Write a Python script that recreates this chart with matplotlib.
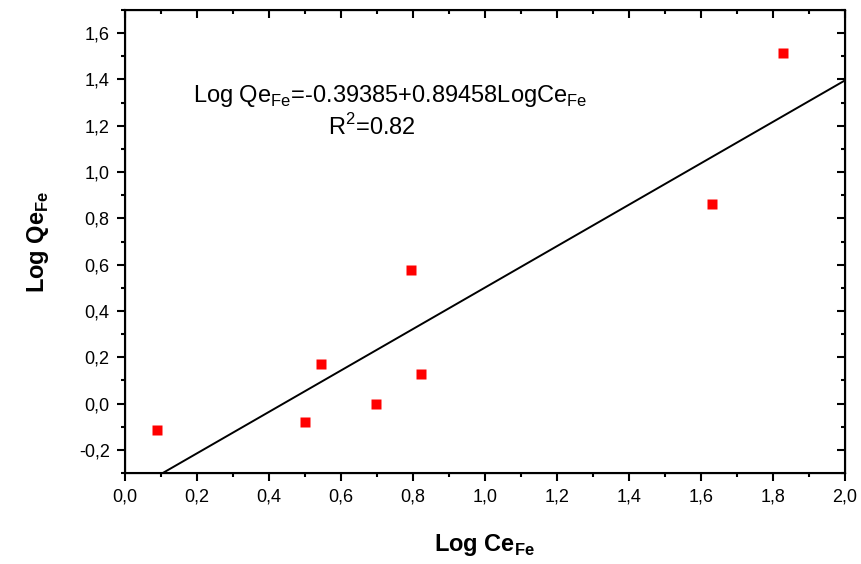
import numpy as np
import matplotlib.pyplot as plt
from matplotlib.ticker import MultipleLocator, FuncFormatter

plt.rcParams['font.family'] = ['Liberation Sans', 'DejaVu Sans']
plt.rcParams['mathtext.fontset'] = 'custom'
plt.rcParams['mathtext.rm'] = 'Liberation Sans'
plt.rcParams['mathtext.bf'] = 'Liberation Sans:bold'

# data
log_ce = [0.089, 0.500, 0.544, 0.697, 0.794, 0.822, 1.630, 1.828]
log_qe = [-0.112, -0.078, 0.173, -0.004, 0.578, 0.129, 0.863, 1.515]

# linear fit from the annotation
intercept = -0.39385
slope = 0.89458

fig = plt.figure(figsize=(8.62, 5.64), dpi=100)
ax = fig.add_axes([0.145, 0.1613, 0.835, 0.821])

xfit = np.array([0.09, 2.0])
ax.plot(xfit, intercept + slope * xfit, color='black', lw=1.4, zorder=2)
ax.plot(log_ce, log_qe, 's', color='#ff0000', ms=7.2, mec='none', zorder=3)

ax.set_xlim(0, 2.0)
ax.set_ylim(-0.3, 1.7)

comma = FuncFormatter(lambda v, p: ('%.1f' % v).replace('.', ','))
ax.xaxis.set_major_locator(MultipleLocator(0.2))
ax.xaxis.set_minor_locator(MultipleLocator(0.1))
ax.yaxis.set_major_locator(MultipleLocator(0.2))
ax.yaxis.set_minor_locator(MultipleLocator(0.1))
ax.xaxis.set_major_formatter(comma)
ax.yaxis.set_major_formatter(comma)
ax.set_yticks(np.arange(-0.2, 1.61, 0.2))

ax.tick_params(which='major', direction='out', length=6, width=1.5, labelsize=13, pad=5)
ax.tick_params(which='minor', direction='out', length=3, width=1.5)
for s in ax.spines.values():
    s.set_linewidth(1.5)

# inward ticks on top and right
top = ax.twiny()
top.set_xlim(ax.get_xlim())
top.xaxis.set_major_locator(MultipleLocator(0.2))
top.xaxis.set_minor_locator(MultipleLocator(0.1))
top.tick_params(which='major', direction='in', length=6, width=1.5, labeltop=False)
top.tick_params(which='minor', direction='in', length=3, width=1.5)
right = ax.twinx()
right.set_ylim(ax.get_ylim())
right.set_yticks(np.arange(-0.2, 1.61, 0.2))
right.yaxis.set_minor_locator(MultipleLocator(0.1))
right.tick_params(which='major', direction='in', length=6, width=1.5, labelright=False)
right.tick_params(which='minor', direction='in', length=3, width=1.5)

ax.set_xlabel(r'Log Ce$_{\mathbf{Fe}}$', fontsize=17, fontweight='bold', labelpad=19)
ax.set_ylabel(r'Log Qe$_{\mathbf{Fe}}$', fontsize=17, fontweight='bold', labelpad=20)

ax.text(0.736, 1.329, r'Log Qe$_{\mathrm{Fe}}$=-0.39385+0.89458LogCe$_{\mathrm{Fe}}$',
        fontsize=17, ha='center', va='center')
ax.text(0.686, 1.195, r'R$^{2}$=0.82', fontsize=17, ha='center', va='center')

fig.savefig('out.png', dpi=100)
